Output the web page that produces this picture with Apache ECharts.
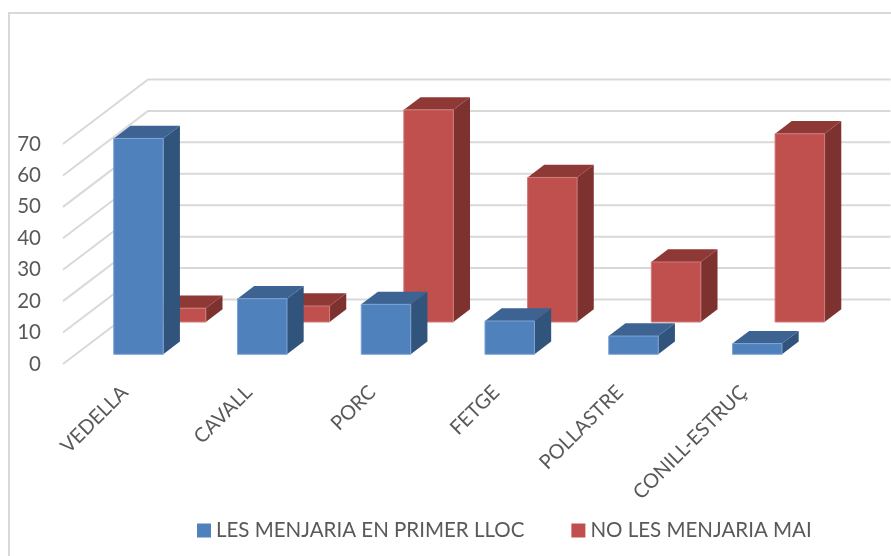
<!DOCTYPE html>
<html>
<head>
<meta charset="utf-8">
<style>
  html, body { margin: 0; padding: 0; background: #fff; }
  #main { width: 891px; height: 556px; }
</style>
<script src="https://cdn.jsdelivr.net/npm/echarts@6/dist/echarts.min.js"></script>
</head>
<body>
<div id="main"></div>
<script>
  const categories = ['VEDELLA', 'CAVALL', 'PORC', 'FETGE', 'POLLASTRE', 'CONILL-ESTRUÇ'];
  const primerLloc = [68.7, 17.7, 15.9, 10.6, 5.8, 3.4];
  const maiMenjaria = [4.4, 5.1, 67.5, 46, 19.1, 59.9];
  const yTicks = [0, 10, 20, 30, 40, 50, 60, 70];

  const FONT = 'Lato';
  const TEXT = '#595959';
  const GRID_LINE = '#d9d9d9';
  const BAR_RATIO = 0.4;
  // fake 3d: how far each row sits behind the front plane, in px
  const WALL = [85, -64.5];
  const DEPTH = [16.7, -12.7];
  const ROW_BLUE = [13.6, -9.7];
  const ROW_RED = [56.2, -42];

  function wallItem(params, api) {
    const left = params.coordSys.x;
    const y = api.coord([0, api.value(1)])[1];
    return {
      type: 'polyline',
      shape: {
        points: [
          [left, y],
          [left + WALL[0], y + WALL[1]],
          [left + WALL[0] + params.coordSys.width, y + WALL[1]]
        ]
      },
      style: { fill: 'none', stroke: GRID_LINE, lineWidth: 2 }
    };
  }

  function makeBar(row, front, side, top, edge) {
    return function (params, api) {
      const base = api.coord([api.value(0), 0]);
      const head = api.coord([api.value(0), api.value(1)]);
      const w = api.size([1, 0])[0] * BAR_RATIO;
      const x0 = base[0] + row[0] - w / 2;
      const x1 = x0 + w;
      const yb = base[1] + row[1];
      const yt = head[1] + row[1];
      const dx = DEPTH[0];
      const dy = DEPTH[1];
      return {
        type: 'group',
        children: [
          {
            type: 'polygon',
            shape: { points: [[x1, yb], [x1 + dx, yb + dy], [x1 + dx, yt + dy], [x1, yt]] },
            style: { fill: side }
          },
          {
            type: 'polygon',
            shape: { points: [[x0, yt], [x1, yt], [x1 + dx, yt + dy], [x0 + dx, yt + dy]] },
            style: { fill: top }
          },
          {
            type: 'rect',
            shape: { x: x0, y: yt, width: w, height: yb - yt },
            style: { fill: front, stroke: edge, lineWidth: 1 }
          }
        ]
      };
    };
  }

  const myChart = echarts.init(document.getElementById('main'), null, { renderer: 'canvas' });

  const option = {
    animation: false,
    backgroundColor: '#fff',
    textStyle: { fontFamily: FONT },
    graphic: [
      {
        type: 'rect',
        silent: true,
        shape: { x: 9, y: 13, width: 940, height: 600 },
        style: { fill: 'none', stroke: GRID_LINE, lineWidth: 2 }
      }
    ],
    legend: {
      data: ['LES MENJARIA EN PRIMER LLOC', 'NO LES MENJARIA MAI'],
      left: 197,
      top: 520,
      padding: 0,
      icon: 'rect',
      itemWidth: 14,
      itemHeight: 14,
      itemGap: 47,
      textStyle: { color: TEXT, fontFamily: FONT, fontSize: 20.5 }
    },
    grid: { left: 63, top: 144, width: 742.5, height: 220 },
    xAxis: {
      type: 'category',
      data: categories,
      axisLine: { show: false },
      axisTick: { show: false },
      axisLabel: {
        rotate: 45,
        margin: 25,
        interval: 0,
        color: TEXT,
        fontFamily: FONT,
        fontSize: 20
      }
    },
    yAxis: {
      type: 'value',
      min: 0,
      max: 70,
      interval: 10,
      axisLine: { show: false },
      axisTick: { show: false },
      splitLine: { show: false },
      axisLabel: { margin: 22, color: TEXT, fontFamily: FONT, fontSize: 20.5, padding: [4, 0, 0, 0] }
    },
    series: [
      {
        name: 'wall',
        type: 'custom',
        silent: true,
        renderItem: wallItem,
        data: yTicks.map(v => [0, v]),
        encode: { x: 0, y: 1 }
      },
      {
        name: 'NO LES MENJARIA MAI',
        type: 'custom',
        itemStyle: { color: '#C0504D' },
        renderItem: makeBar(ROW_RED, '#C0504D', '#7D3230', '#8F3936', '#CF7C79'),
        data: maiMenjaria.map((v, i) => [i, v]),
        encode: { x: 0, y: 1 }
      },
      {
        name: 'LES MENJARIA EN PRIMER LLOC',
        type: 'custom',
        itemStyle: { color: '#4F81BD' },
        renderItem: makeBar(ROW_BLUE, '#4F81BD', '#31547C', '#3C6391', '#7FA3D3'),
        data: primerLloc.map((v, i) => [i, v]),
        encode: { x: 0, y: 1 }
      }
    ]
  };

  myChart.setOption(option);
</script>
</body>
</html>
